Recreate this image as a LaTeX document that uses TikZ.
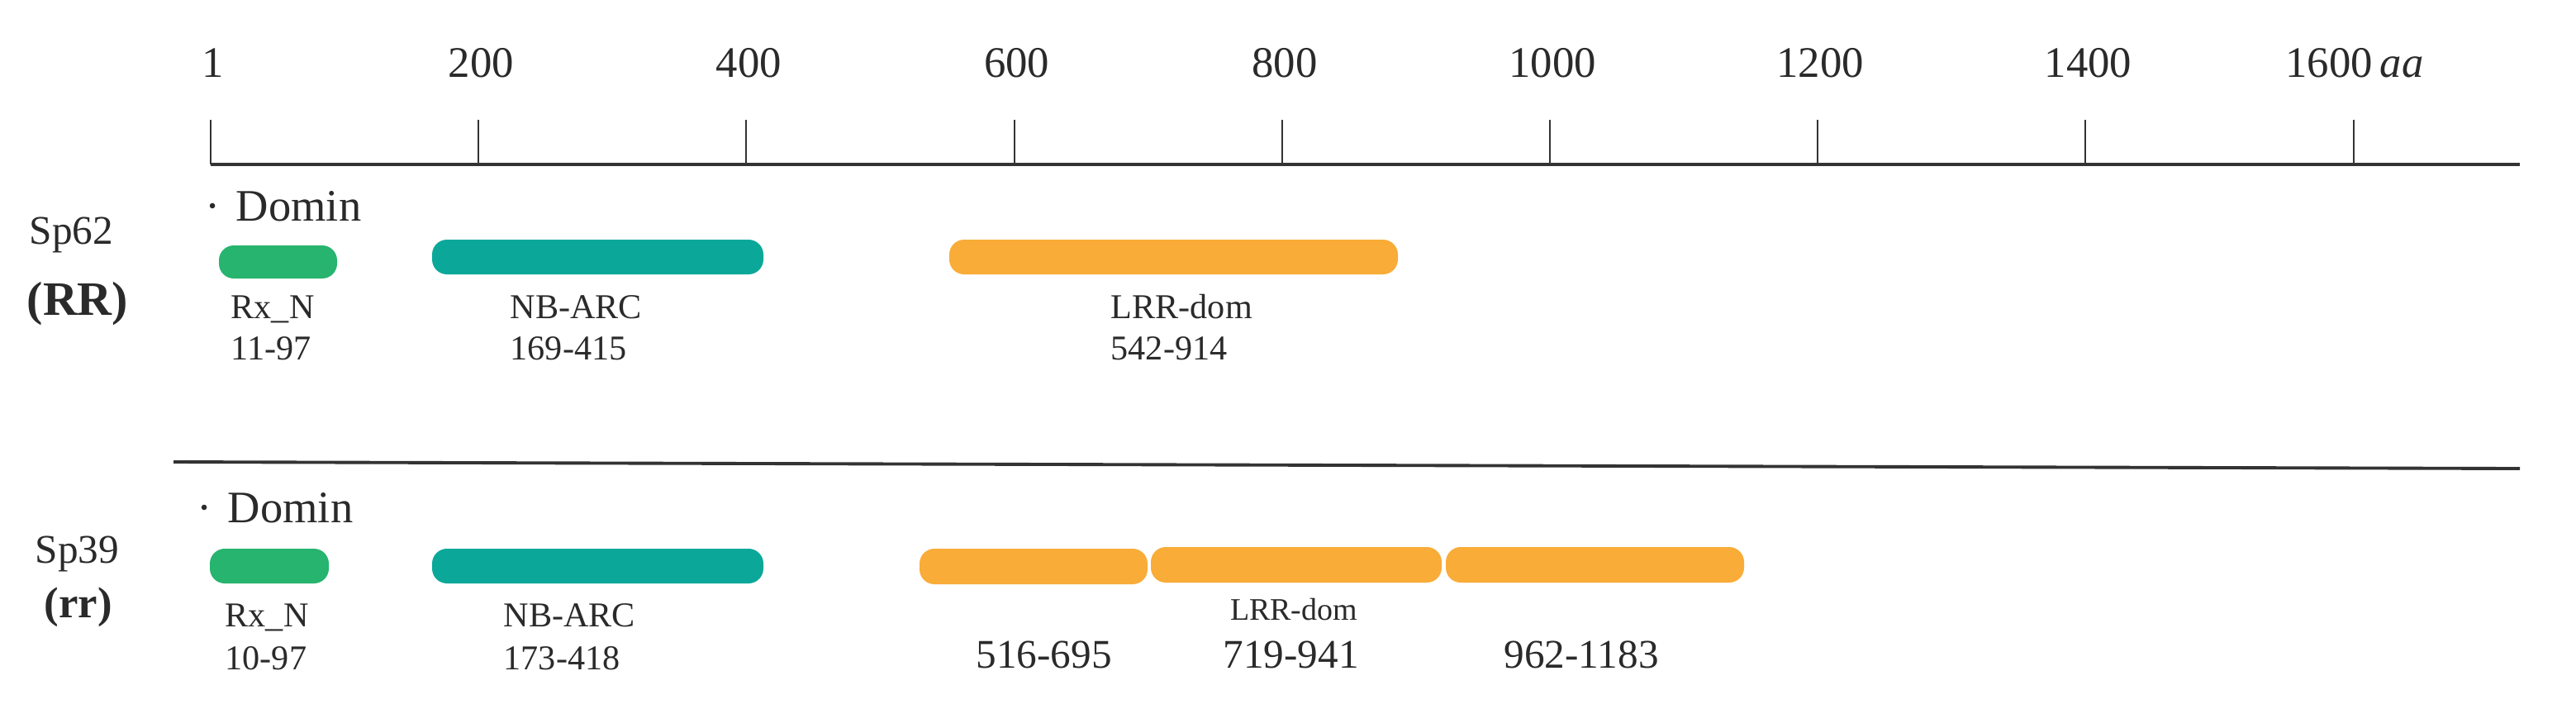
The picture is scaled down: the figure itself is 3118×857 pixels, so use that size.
\documentclass[tikz,border=0pt]{standalone}
\usepackage{fontspec}
\setmainfont{Liberation Serif}
\usetikzlibrary{fit}
\definecolor{rxgreen}{HTML}{26B46E}
\definecolor{nbteal}{HTML}{0BA89A}
\definecolor{lrrorange}{HTML}{F9AC38}
\definecolor{txt}{HTML}{2A2A2A}
\tikzset{
  pill/.style={fill=#1, draw=none, rounded corners=0.18cm, inner sep=0pt},
  axlab/.style={anchor=base, inner sep=0pt, text=txt, font=\fontsize{15}{18}\selectfont},
  domlab/.style={anchor=base west, inner sep=0pt, text=txt, font=\fontsize{15.5}{18}\selectfont},
  splab/.style={anchor=base west, inner sep=0pt, text=txt, font=\fontsize{14}{17}\selectfont},
  small/.style={anchor=base west, inner sep=0pt, text=txt, font=\fontsize{12}{14}\selectfont},
  mid/.style={anchor=base west, inner sep=0pt, text=txt, font=\fontsize{14}{17}\selectfont},
  tickline/.style={draw=black!80, line width=0.6pt},
}
\begin{document}
\begin{tikzpicture}[x=0.01cm, y=-0.01cm]
\useasboundingbox (0,0) rectangle (3118,857);
% axis
\coordinate (axL) at (255,199);
\coordinate (axR) at (3050,199);
\draw[black!80, line width=1.1pt] (axL) -- (axR);
\foreach \k/\lab in {0/1,1/200,2/400,3/600,4/800,5/1000,6/1200,7/1400} {
  \coordinate (tb\k) at (255+324.2*\k,199);
  \coordinate (tt\k) at (255+324.2*\k,145);
  \draw[tickline] (tb\k) -- (tt\k);
  \node[axlab] (al\k) at (255+324.2*\k+3,93) {\lab};
}
\coordinate (tb8) at (2848.6,199);
\coordinate (tt8) at (2848.6,145);
\draw[tickline] (tb8) -- (tt8);
\node[axlab] (al8) at (2850,93) {1600\,\textit{aa}};

% separator
\coordinate (sepL) at (210,559);
\coordinate (sepR) at (3050,567);
\draw[black!80, line width=1.1pt] (sepL) -- (sepR);

% ---- Sp62 (RR)
\node[splab] (sp62) at (35,295) {Sp62};
\node[anchor=base west, inner sep=0pt, text=txt, font=\fontsize{16.5}{19}\selectfont\bfseries] (rr1) at (32,381) {(RR)};
\node[domlab] (dom1) at (248,267) {·\hspace{0.35em}Domin};
\node[pill=rxgreen, fit={(265,297) (408,337)}] (rx1) {};
\node[pill=nbteal, fit={(523,290) (924,332)}] (nb1) {};
\node[pill=lrrorange, fit={(1149,290) (1692,332)}] (lrr1) {};
\node[small] (rx1l) at (279,385) {Rx\_N};
\node[small] (rx1n) at (279,435) {11-97};
\node[small] (nb1l) at (617,385) {NB-ARC};
\node[small] (nb1n) at (617,435) {169-415};
\node[small] (lrr1l) at (1344,385) {LRR-dom};
\node[small] (lrr1n) at (1344,435) {542-914};

% ---- Sp39 (rr)
\node[splab] (sp39) at (42,681) {Sp39};
\node[anchor=base west, inner sep=0pt, text=txt, font=\fontsize{15}{18}\selectfont\bfseries] (rr2) at (53,747) {(rr)};
\node[domlab] (dom2) at (238,632) {·\hspace{0.35em}Domin};
\node[pill=rxgreen, fit={(254,664) (398,706)}] (rx2) {};
\node[pill=nbteal, fit={(523,664) (924,706)}] (nb2) {};
\node[pill=lrrorange, fit={(1113,664) (1389,707)}] (lrr2a) {};
\node[pill=lrrorange, fit={(1393,662) (1745,705)}] (lrr2b) {};
\node[pill=lrrorange, fit={(1750,662) (2111,705)}] (lrr2c) {};
\node[small] (rx2l) at (272,758) {Rx\_N};
\node[small] (rx2n) at (272,810) {10-97};
\node[small] (nb2l) at (609,758) {NB-ARC};
\node[small] (nb2n) at (609,810) {173-418};
\node[anchor=base, inner sep=0pt, text=txt, font=\fontsize{10.8}{13}\selectfont] (lrr2l) at (1566,750) {LRR-dom};
\node[mid] (lrr2n1) at (1181,808) {516-695};
\node[mid] (lrr2n2) at (1480,808) {719-941};
\node[mid] (lrr2n3) at (1820,808) {962-1183};
\end{tikzpicture}
\end{document}
